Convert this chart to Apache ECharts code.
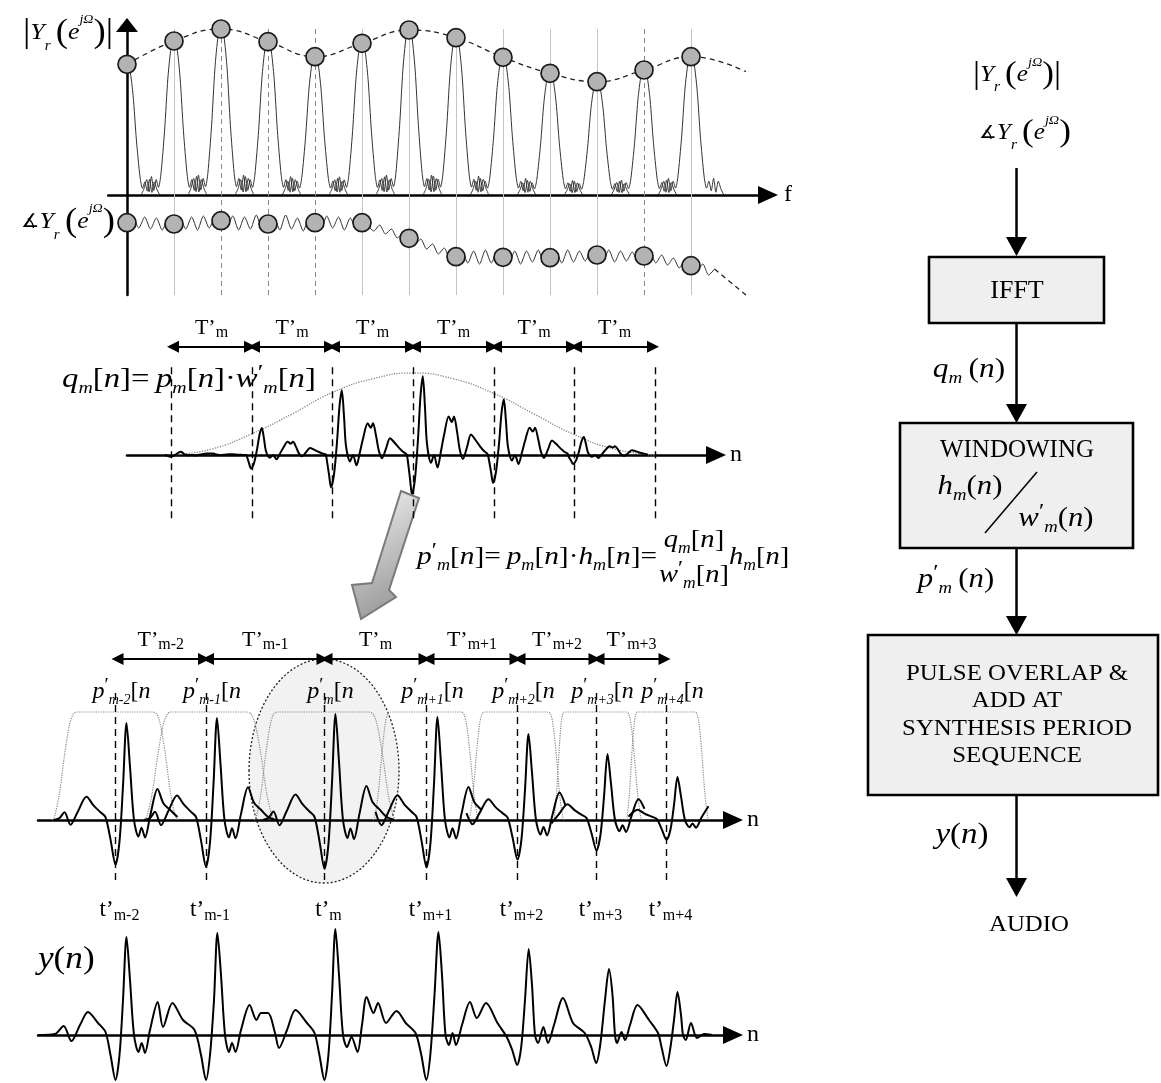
<!DOCTYPE html>
<html><head><meta charset="utf-8">
<script src="https://cdn.jsdelivr.net/npm/echarts@6/dist/echarts.min.js"></script>
<style>html,body{margin:0;padding:0;background:#fff}#c{width:1161px;height:1083px}</style>
</head><body><div id="c"></div>
<script>
// ================= DATA =================
// Panel 1 : harmonic spectrum (x = harmonic index, y = amplitude units)
const harmonics = [0,1,2,3,4,5,6,7,8,9,10,11,12];
const magnitude = [13.07,15.4,16.6,15.33,13.83,15.17,16.5,15.73,13.77,12.17,11.33,12.5,13.83];
const magEnvelopeTail = [13.17,12.33];
const phase = [-2.77,-2.9,-2.57,-2.9,-2.77,-2.77,-4.33,-6.17,-6.23,-6.27,-6.0,-6.1,-7.07];
const phaseStep = 0.125;
const phaseWave = [
 -2.77,
 -2.3,-3.3,-2.2,-3.4,-2.3,-3.5,-2.4, -2.9,
 -2.3,-3.4,-2.2,-3.5,-2.1,-3.3,-2.3, -2.57,
 -3.2,-2.1,-3.5,-2.2,-3.4,-2.0,-3.3, -2.9,
 -2.2,-3.5,-2.0,-3.4,-2.3,-3.6,-2.3, -2.77,
 -3.4,-2.1,-3.3,-2.2,-3.5,-2.3,-3.3, -2.77,
 -3.1,-3.6,-3.0,-3.9,-3.4,-4.3,-3.8, -4.33,
 -4.9,-4.4,-5.4,-4.9,-5.9,-5.3,-6.4, -6.17,
 -5.5,-6.8,-5.6,-6.9,-5.5,-6.8,-5.7, -6.23,
 -6.8,-5.6,-6.9,-5.6,-6.7,-5.5,-6.8, -6.27,
 -5.7,-6.8,-5.5,-6.7,-5.6,-6.6,-5.6, -6.0,
 -6.6,-5.5,-6.7,-5.6,-6.6,-5.7,-6.7, -6.1,
 -5.7,-6.8,-6.0,-7.0,-6.3,-7.3,-6.5, -7.07,
 -7.6,-6.9,-8.0,-7.4
];
const phaseTail = [[12.5,-7.4],[13.17,-10]];
// main lobe + side lobes of one harmonic (offset in harmonics, relative height)
const lobeOffsets = [-0.7,-0.64,-0.58,-0.53,-0.48,-0.43,-0.38,-0.33,-0.28,-0.2,-0.13,-0.06,0,0.06,0.13,0.2,0.28,0.33,0.38,0.43,0.48,0.53,0.58,0.64,0.7];
const lobeShape   = [0,0.04,0.1,0.02,0.12,0.03,0.1,0.05,0.13,0.42,0.76,0.96,1,0.96,0.76,0.42,0.13,0.05,0.1,0.03,0.12,0.02,0.1,0.04,0];
const guideHarmonics = [1,2,3,4,5,6,7,8,9,10,11,12];
const dashedGuides = [2,3,4,11];

// Panel 2 : q_m[n] (x = samples, y = window units)
const qMarks = [0,81,161,242,323,403,484];
const qAmp = [0.04,0.33,0.79,0.96,0.68,0.22];
const qOffsets = [-6,-3,-1,2,5,7.5,9.8,12,14,18,21,24.5,28,31,35.7,38.8,41,44,46.9,50,54,58,62,67,71,74];
const qShape   = [0,-0.3,-0.5,-0.3,0.2,0.75,1,0.6,0.14,-0.1,0,-0.16,0.05,0.25,0.49,0.42,0.49,0.3,0.06,-0.05,0.1,0.26,0.2,0.11,0.05,0.02];
const wX    = [0,40,81,121,161,202,242,282,323,363,403,444,484];
const wVals = [0,0.07,0.26,0.5,0.76,0.93,1,0.93,0.75,0.5,0.25,0.07,0];
const qPeriodSubs = ['m','m','m','m','m','m'];

// Panel 3 : overlapped pulses p'_m[n]
const pMarks = [0,90.5,209,311,402,481,551];
const pAmp = [0.97,1.02,1.06,1.03,0.86,0.66,0.43];
const pOffsets = [-62,-56,-51,-45,-38,-29,-22,-15,-10,-5,0,4,7.5,11,14.5,18.5,23,26,29.5,35,42,48,55,62,70];
const pShape   = [0,0.02,0.08,-0.05,0.08,0.24,0.15,0.08,0.03,-0.2,-0.46,-0.22,0.35,1,0.55,0,-0.17,-0.08,-0.18,0.06,0.32,0.17,0.1,0.03,0];
const hFootL = [-63.5,28.5,138.6,257.7,352.8,437.8,510.5];
const hTopL  = [-38.5,56,161.6,274.7,368.8,448.8,522];
const hTopR  = [37.5,131.5,253.6,345.7,432.8,510.8,579.5];
const hFootR = [62.5,159.5,280.6,363.7,448.8,526.8,593.5];
const hTop = 1.08;
const taperU = [0,0.1,0.3,0.5,0.7,0.85,1];
const taperV = [0,0.03,0.25,0.6,0.88,0.98,1];
const periodSubs = ['m-2','m-1','m','m+1','m+2','m+3'];
const pulseSubs  = ['m-2','m-1','m','m+1','m+2','m+3','m+4'];

// Panel 4 : y(n)
const yWave = [
[-77.5,0],[-60.5,0.01],[-51.9,0.09],[-44.1,-0.06],[-35.5,0.1],[-27.5,0.23],[-17.5,0.12],[-10,0.03],[-5,-0.2],[0,-0.45],[4,-0.2],[7.5,0.35],[11,0.98],[14.5,0.55],[18.5,0],[23,-0.17],[26.2,-0.08],[29.5,-0.18],[34.5,0.05],[42.2,0.33],[47.5,0.08],[56.9,0.32],[67.5,0.15],[79,0.05],[85.5,-0.2],
[90.5,-0.45],[94.5,-0.2],[98.5,0.35],[101.9,1.02],[105.5,0.6],[109.5,0],[113.5,-0.17],[116.5,-0.08],[120,-0.17],[125.5,0.05],[134.1,0.3],[141,0.15],[145.5,0.22],[152.5,0.22],[159.5,0.02],[163.5,-0.13],[171.5,0.05],[180,0.25],[191.5,0.12],[199,0.02],[203.9,-0.2],
[208.9,-0.45],[212.9,-0.2],[216.5,0.4],[219.9,1.06],[223.5,0.6],[227.5,0],[231.5,-0.12],[236,-0.02],[242,-0.17],[246.5,0.1],[251.1,0.38],[258,0.22],[262.5,0.32],[270.5,0.12],[281,0.24],[290.2,0.12],[300,0.02],[305.8,-0.2],
[310.8,-0.45],[314.8,-0.2],[319,0.4],[323,1.03],[326.5,0.6],[330,0],[333.5,-0.1],[337,0.02],[340.5,-0.1],[346.5,0.1],[354.5,0.33],[361.3,0.17],[370.5,0.32],[382,0.12],[391.2,-0.02],[396.7,-0.15],
[401.7,-0.3],[405.7,-0.12],[409.5,0.35],[413.2,0.86],[416.5,0.5],[419.5,0],[422.5,-0.08],[427.9,0.08],[432.5,-0.08],[438.5,0.1],[447.5,0.37],[457.5,0.12],[469.2,0.02],[475.7,-0.12],
[480.7,-0.28],[484.7,-0.1],[489.5,0.35],[493.5,0.66],[497,0.4],[499.5,0],[501.5,-0.08],[506,0.03],[509.5,-0.05],[514.5,0.1],[522,0.3],[533.5,0.15],[542.5,0.02],[546,-0.12],
[551,-0.31],[555,-0.12],[558.5,0.15],[562,0.43],[565.5,0.2],[567.5,0],[570.2,-0.05],[575.5,0.12],[581.5,-0.03],[588.5,0.01],[596.5,0]
];

// Flow chart texts
const flowBoxes = ['IFFT','WINDOWING','PULSE OVERLAP &\nADD AT\nSYNTHESIS PERIOD\nSEQUENCE'];
const flowOut = 'AUDIO';

// ================= STYLE HELPERS =================
const SERIF = "'Liberation Serif','DejaVu Serif',serif";
function R(size, lineH) {
  const L = lineH || Math.round(size * 1.25);
  const c = '#000';
  return {
    i:{fontFamily:SERIF,fontStyle:'italic',fontSize:size,lineHeight:L,color:c},
    r:{fontFamily:SERIF,fontSize:size,lineHeight:L,color:c},
    s:{fontFamily:SERIF,fontStyle:'italic',fontSize:Math.round(size*0.6),lineHeight:Math.max(4,L-2*Math.round(size*0.3)),verticalAlign:'bottom',color:c},
    pr:{fontFamily:SERIF,fontSize:Math.round(size*0.8),lineHeight:Math.max(4,L-2*Math.round(size*0.3)),verticalAlign:'top',color:c},
    sup:{fontFamily:SERIF,fontStyle:'italic',fontSize:Math.round(size*0.55),lineHeight:Math.max(4,L-2*Math.round(size*0.4)),verticalAlign:'top',color:c},
    big:{fontFamily:SERIF,fontSize:Math.round(size*1.4),lineHeight:L,color:c},
    ang:{fontFamily:"'DejaVu Sans'",fontSize:Math.round(size*0.8),lineHeight:L,color:c}
  };
}
const magLabel = '{big||}{i|Y}{s|r}{r|\u2009}{big|(}{i|e}{sup|jΩ}{big|)}{big||}';
const phaseLabel = '{ang|∡}{i|Y}{s|r}{r|\u2009}{big|(}{i|e}{sup|jΩ}{big|)}';

// ================= BUILD SERIES =================
const series = [];
const G = (i) => ({xAxisIndex:i, yAxisIndex:i});
const noSym = {showSymbol:false, symbol:'none'};

// ---- panel 1
harmonics.forEach((k, idx) => {
  const pts = [];
  lobeOffsets.forEach((o, j) => { if (k + o >= 0) pts.push([k + o, magnitude[idx] * lobeShape[j]]); });
  series.push(Object.assign({type:'line', data:pts, smooth:0.25, lineStyle:{color:'#333', width:1}, z:3}, G(0), noSym));
});
series.push(Object.assign({type:'line', data: harmonics.map((k,i)=>[k, magnitude[i]]).concat([magEnvelopeTail]),
  smooth:0.45, lineStyle:{color:'#222', width:1.3, type:[5,4]}, z:3, clip:false}, G(0), noSym));
series.push(Object.assign({type:'line', data: phaseWave.map((v,i)=>[i*phaseStep, v]), smooth:0.25,
  lineStyle:{color:'#333', width:1}, z:3}, G(0), noSym));
series.push(Object.assign({type:'line', data: phaseTail, lineStyle:{color:'#222', width:1.3, type:[5,4]}, z:3, clip:false}, G(0), noSym));
const circleStyle = {color:'#b3b3b3', borderColor:'#1a1a1a', borderWidth:1.7, opacity:1};
series.push(Object.assign({type:'scatter', data: harmonics.map((k,i)=>[k, magnitude[i]]), symbolSize:18, itemStyle:circleStyle, z:6}, G(0)));
series.push(Object.assign({type:'scatter', data: harmonics.map((k,i)=>[k, phase[i]]), symbolSize:18, itemStyle:circleStyle, z:6}, G(0)));
series.push(Object.assign({type:'line', data:[], z:1, markLine:{silent:true, symbol:['none','none'], animation:false, label:{show:false},
  data: guideHarmonics.map(k => {
    const d = dashedGuides.indexOf(k) >= 0;
    return [{coord:[k,16.6], lineStyle:{color: d ? '#888':'#c4c4c4', width:1, type: d ? [5,4] : 'solid'}}, {coord:[k,-10]}];
  })}}, G(0), noSym));

// ---- panel 2
const qData = [];
qAmp.forEach((a, k) => qOffsets.forEach((o, j) => qData.push([qMarks[k] + o, a * qShape[j]])));
series.push(Object.assign({type:'line', data:qData, smooth:0.3, lineStyle:{color:'#000', width:2}, z:4}, G(1), noSym));
series.push(Object.assign({type:'line', data:wX.map((x,i)=>[x, wVals[i]]), smooth:0.5, lineStyle:{color:'#8a8a8a', width:1.3, type:'dotted'}, z:3}, G(1), noSym));
series.push(Object.assign({type:'line', data:[], z:2, markLine:{silent:true, symbol:['none','none'], animation:false, label:{show:false},
  lineStyle:{color:'#000', width:1.4, type:[7,5]},
  data: qMarks.map(x => [{coord:[x,1.07]},{coord:[x,-0.79]}])}}, G(1), noSym));
const Tlab = {show:true, position:'middle', distance:6, color:'#000',
  formatter: p => '{T|T\u2019}{s|' + p.name + '}',
  rich:{T:{fontFamily:SERIF,fontSize:22,lineHeight:26,color:'#000'}, s:{fontFamily:SERIF,fontSize:16,lineHeight:14,verticalAlign:'bottom',color:'#000'}}};
series.push(Object.assign({type:'line', data:[], z:4, markLine:{silent:true, symbol:['triangle','triangle'], symbolSize:12, animation:false,
  lineStyle:{color:'#000', width:2.2, type:'solid'}, label:Tlab,
  data: qPeriodSubs.map((s,k) => [{name:s, coord:[qMarks[k]+2,1.32]},{name:s, coord:[qMarks[k+1]-2,1.32]}])}}, G(1), noSym));

// ---- panel 3
pMarks.forEach((m, i) => {
  const pts = [];
  pOffsets.forEach((o, j) => { const x = m + o; if (x >= hFootL[i] - 2 && x <= hFootR[i] + 4) pts.push([x, pAmp[i]*pShape[j]]); });
  series.push(Object.assign({type:'line', data:pts, smooth:0.3, lineStyle:{color:'#000', width:2}, z:4}, G(2), noSym));
  const w = [];
  taperU.forEach((u,j) => w.push([hFootL[i] + u*(hTopL[i]-hFootL[i]), hTop*taperV[j]]));
  for (let j = taperU.length-1; j >= 0; j--) w.push([hFootR[i] - taperU[j]*(hFootR[i]-hTopR[i]), hTop*taperV[j]]);
  series.push(Object.assign({type:'line', data:w, smooth:0.3, lineStyle:{color:'#8a8a8a', width:1.2, type:'dotted'}, z:3}, G(2), noSym));
});
series.push(Object.assign({type:'line', data:[], z:2, markLine:{silent:true, symbol:['none','none'], animation:false, label:{show:false},
  lineStyle:{color:'#000', width:1.4, type:[7,5]},
  data: pMarks.map(x => [{coord:[x,1.27]},{coord:[x,-0.6]}])}}, G(2), noSym));
series.push(Object.assign({type:'line', data:[], z:4, markLine:{silent:true, symbol:['triangle','triangle'], symbolSize:12, animation:false,
  lineStyle:{color:'#000', width:2.2, type:'solid'}, label:Tlab,
  data: periodSubs.map((s,k) => [{name:s, coord:[pMarks[k]+2,1.61]},{name:s, coord:[pMarks[k+1]-2,1.61]}])}}, G(2), noSym));
const pr = R(24);
series.push(Object.assign({type:'scatter', symbolSize:0, z:7, itemStyle:{opacity:1}, data: pMarks.map((m,i)=>({name:pulseSubs[i], value:[m,1.28]})),
  label:{show:true, position:'inside', offset:[6,0], color:'#000', opacity:1, textBorderWidth:0, textBorderColor:'transparent',
    formatter: p => '{i|p}{pr|\u2032}{s|' + p.name + '}{r|[}{i|n}', rich:pr}}, G(2)));
series.push(Object.assign({type:'scatter', symbolSize:0, z:7, itemStyle:{opacity:1}, data: pMarks.map((m,i)=>({name:pulseSubs[i], value:[m,-0.9]})),
  label:{show:true, position:'inside', offset:[4,0], color:'#000', opacity:1, textBorderWidth:0, textBorderColor:'transparent',
    formatter: p => '{t|t\u2019}{s|' + p.name + '}',
    rich:{t:{fontFamily:SERIF,fontSize:23,lineHeight:28,color:'#000'}, s:{fontFamily:SERIF,fontSize:16,lineHeight:14,verticalAlign:'bottom',color:'#000'}}}}, G(2)));

// ---- panel 4
series.push(Object.assign({type:'line', data:yWave, smooth:0.3, lineStyle:{color:'#000', width:2}, z:4}, G(3), noSym));

// ================= AXES =================
function xAx(g, min, max, name, gap) {
  return {gridIndex:g, type:'value', min, max, name, nameLocation:'end', nameGap:gap,
    nameTextStyle:{fontFamily:SERIF, fontSize:24, color:'#000', align:'left', verticalAlign:'middle'},
    axisLine:{show:true, onZero:true, symbol:['none','triangle'], symbolSize:[18,20], lineStyle:{color:'#000', width:2.5}},
    axisTick:{show:false}, axisLabel:{show:false}, splitLine:{show:false}};
}
function yAx(g, min, max, show) {
  return {gridIndex:g, type:'value', min, max, show: !!show,
    axisLine:{show:!!show, onZero:true, symbol:['none','triangle'], symbolSize:[22,14], lineStyle:{color:'#000', width:2.5}},
    axisTick:{show:false}, axisLabel:{show:false}, splitLine:{show:false}};
}

// ================= GRAPHICS (annotations & flow chart) =================
const graphics = [];
function txt(x, y, text, rich, align, extra) {
  graphics.push(Object.assign({type:'text', x, y, z:10, style:{text, rich, x:0, y:0, align:align||'left', textAlign:align||'left', verticalAlign:'middle', textVerticalAlign:'middle'}}, extra||{}));
}
txt(68, 33, magLabel, R(24, 40), 'center', {scaleX:1.08});
txt(68, 222, phaseLabel, R(24, 40), 'center', {scaleX:1.08});
txt(62, 380, '{i|q}{s|m}{r|[}{i|n}{r|]=\u2009}{i|p}{s|m}{r|[}{i|n}{r|]·}{i|w}{pr|\u2032}{s|m}{r|[}{i|n}{r|]}', R(28), 'left', {scaleX:1.17});
txt(417, 557, '{i|p}{pr|\u2032}{s|m}{r|[}{i|n}{r|]=\u2009}{i|p}{s|m}{r|[}{i|n}{r|]·}{i|h}{s|m}{r|[}{i|n}{r|]=}', R(26), 'left', {scaleX:1.13});
txt(694, 540, '{i|q}{s|m}{r|[}{i|n}{r|]}', R(26), 'center', {scaleX:1.1});
txt(694, 575, '{i|w}{pr|\u2032}{s|m}{r|[}{i|n}{r|]}', R(26), 'center', {scaleX:1.1});
txt(729, 557, '{i|h}{s|m}{r|[}{i|n}{r|]}', R(26), 'left', {scaleX:1.1});
txt(38, 960, '{i|y}{r|(}{i|n}{r|)}', R(32), 'left', {scaleX:1.1});
// shaded ellipse around p'_m
graphics.push({type:'ellipse', z:-1, shape:{cx:324, cy:771, rx:75, ry:112}, style:{fill:'#f2f2f2', stroke:'#222', lineWidth:1.3, lineDash:[2,2]}});
// fat gray arrow
graphics.push({type:'polygon', z:5, shape:{points:[[401,491],[419,498],[389,590],[396,597],[361,619],[352,585],[372,583]]},
  style:{fill:new echarts.graphic.LinearGradient(0,0,1,1,[{offset:0,color:'#f2f2f2'},{offset:1,color:'#8c8c8c'}]), stroke:'#7a7a7a', lineWidth:2}});
// flow chart
const FX = 1016.5;
function flowArrow(y1, y2) {
  graphics.push({type:'line', z:5, shape:{x1:FX, y1, x2:FX, y2:y2-16}, style:{stroke:'#000', lineWidth:2.5}});
  graphics.push({type:'polygon', z:5, shape:{points:[[FX-10.5,y2-19],[FX+10.5,y2-19],[FX,y2]]}, style:{fill:'#000'}});
}
function box(x, y, w, h) {
  graphics.push({type:'rect', z:4, shape:{x, y, width:w, height:h}, style:{fill:'#efefef', stroke:'#000', lineWidth:2.6}});
}
txt(1017, 75, magLabel, R(23, 38), 'center', {scaleX:1.1});
txt(1025, 133, phaseLabel, R(23, 38), 'center', {scaleX:1.1});
flowArrow(168, 256);
box(929, 257, 175, 66);
txt(1017, 291, '{b|' + flowBoxes[0] + '}', {b:{fontFamily:SERIF, fontSize:26, color:'#000'}}, 'center');
flowArrow(323, 423);
txt(969, 370, '{i|q}{s|m}{r|\u2009(}{i|n}{r|)}', R(28), 'center', {scaleX:1.12});
box(900, 423, 233, 125);
txt(1017, 450, '{b|' + flowBoxes[1] + '}', {b:{fontFamily:SERIF, fontSize:25, color:'#000'}}, 'center');
txt(970, 487, '{i|h}{s|m}{r|(}{i|n}{r|)}', R(28), 'center', {scaleX:1.1});
txt(1056, 519, '{i|w}{pr|\u2032}{s|m}{r|(}{i|n}{r|)}', R(28), 'center', {scaleX:1.1});
graphics.push({type:'line', z:6, shape:{x1:1037, y1:472, x2:985, y2:533}, style:{stroke:'#000', lineWidth:1.5}});
flowArrow(548, 635);
txt(956, 580, '{i|p}{pr|\u2032}{s|m}{r|\u2009(}{i|n}{r|)}', R(28), 'center', {scaleX:1.1});
box(868, 635, 290, 160);
txt(1017, 715, '{b|' + flowBoxes[2].split('\n').join('}\n{b|') + '}', {b:{fontFamily:SERIF, fontSize:23, lineHeight:27.5, color:'#000'}}, 'center', {scaleX:1.08});
flowArrow(795, 897);
txt(962, 835, '{i|y}{r|(}{i|n}{r|)}', R(30), 'center', {scaleX:1.1});
txt(1029, 925, '{b|' + flowOut + '}', {b:{fontFamily:SERIF, fontSize:23, color:'#000'}}, 'center', {scaleX:1.08});

// ================= OPTION =================
const option = {
  animation:false,
  backgroundColor:'#fff',
  grid:[
    {left:108.2, top:25, width:659.8, height:270},
    {left:127, top:319.7, width:589, height:209.1},
    {left:38, top:620, width:695, height:300},
    {left:38, top:925, width:695, height:158}
  ],
  xAxis:[
    xAx(0, -0.4, 13.638, 'f', 16),
    xAx(1, -44, 545, 'n', 14),
    xAx(2, -77.5, 617.5, 'n', 14),
    xAx(3, -77.5, 617.5, 'n', 14)
  ],
  yAxis:[
    yAx(0, -10, 17, true),
    yAx(1, -0.9, 1.65),
    yAx(2, -1.0, 2.0),
    yAx(3, -0.48, 1.1)
  ],
  series,
  graphic: graphics
};
const chart = echarts.init(document.getElementById('c'));
chart.setOption(option);
</script>
</body></html>
